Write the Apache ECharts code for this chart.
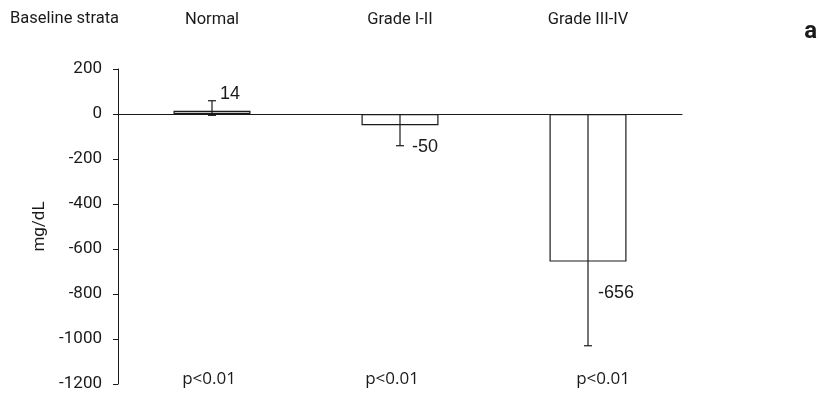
<!DOCTYPE html>
<html>
<head>
<meta charset="utf-8">
<script src="https://cdn.jsdelivr.net/npm/echarts@6/dist/echarts.min.js"></script>
<style>html,body{margin:0;padding:0;background:#fff}#c{width:819px;height:400px}</style>
</head>
<body>
<div id="c"></div>
<script>
var categories = ['Normal', 'Grade I-II', 'Grade III-IV'];
var means = [14, -50, -656];
var errHigh = [59, -141, -1030];
var errFrom = [-5, 0, 0];
var pValues = ['p<0.01', 'p<0.01', 'p<0.01'];
var yTicks = [200, 0, -200, -400, -600, -800, -1000, -1200];
var headerTitle = 'Baseline strata';
var panelTag = 'a';

// label style offsets (pixels, relative to error-bar cap)
var labelDx = [8, 12, 10];
var labelDy = [-7, 1, -53];
var pDx = [-3, -8, 15];

var chart = echarts.init(document.getElementById('c'));
var ink = '#1a1a1a';

chart.setOption({
  animation: false,
  backgroundColor: '#fff',
  grid: { left: 118, right: 137, top: 69, bottom: 16, containLabel: false },
  xAxis: [{
    type: 'category',
    data: categories,
    axisLine: { onZero: true, lineStyle: { color: ink, width: 1 } },
    axisTick: { show: false },
    axisLabel: { show: false },
    splitLine: { show: false }
  }, {
    type: 'category',
    data: categories,
    position: 'top',
    axisLine: { show: false },
    axisTick: { show: false },
    axisLabel: {
      margin: 41,
      color: ink,
      fontFamily: 'Liberation Sans Narrow, Roboto, sans-serif',
      fontSize: 16.5
    }
  }],
  yAxis: {
    type: 'value',
    min: yTicks[yTicks.length - 1],
    max: yTicks[0],
    interval: 200,
    name: 'mg/dL',
    nameLocation: 'middle',
    nameGap: 68,
    nameRotate: 90,
    nameTextStyle: { color: ink, fontFamily: 'Roboto, sans-serif', fontSize: 17 },
    axisLine: { show: true, lineStyle: { color: ink, width: 1 } },
    axisTick: { show: true, length: 5, lineStyle: { color: ink } },
    axisLabel: {
      color: ink, fontFamily: 'Roboto, sans-serif', fontSize: 17, margin: 16,
      formatter: function (v) { return String(v); }
    },
    splitLine: { show: false }
  },
  graphic: [{
    type: 'text', left: 10, top: 10,
    style: { text: headerTitle, fill: ink, font: '16.5px "Liberation Sans Narrow", Roboto, sans-serif' }
  }, {
    type: 'text', right: 2, top: 20,
    style: { text: panelTag, fill: ink, font: 'bold 24px Roboto, "DejaVu Sans", sans-serif' }
  }],
  series: [{
    type: 'bar',
    data: means,
    barWidth: 77,
    itemStyle: { color: '#fff', borderColor: ink, borderWidth: 1.2 },
    z: 2
  }, {
    type: 'custom',
    z: 3,
    data: categories.map(function (c, i) { return [i, errFrom[i], errHigh[i]]; }),
    renderItem: function (params, api) {
      var i = api.value(0);
      var p0 = api.coord([i, api.value(1)]);
      var p1 = api.coord([i, api.value(2)]);
      var hw = 4;
      var els = [
        { type: 'line', shape: { x1: p0[0], y1: p0[1], x2: p1[0], y2: p1[1] }, style: { stroke: ink, lineWidth: 1.2 } },
        { type: 'line', shape: { x1: p1[0] - hw, y1: p1[1], x2: p1[0] + hw, y2: p1[1] }, style: { stroke: ink, lineWidth: 1.2 } }
      ];
      if (api.value(1) !== 0) {
        els.push({ type: 'line', shape: { x1: p0[0] - hw, y1: p0[1], x2: p0[0] + hw, y2: p0[1] }, style: { stroke: ink, lineWidth: 1.6 } });
      }
      els.push({
        type: 'text',
        style: {
          text: String(means[i]),
          x: p1[0] + labelDx[i], y: p1[1] + labelDy[i],
          textAlign: 'left', textVerticalAlign: 'middle',
          fill: ink, font: '18px "Liberation Sans", Arial, sans-serif'
        }
      });
      return { type: 'group', children: els };
    }
  }, {
    type: 'custom',
    z: 3,
    data: categories.map(function (c, i) { return [i, -1177]; }),
    renderItem: function (params, api) {
      var i = api.value(0);
      var p = api.coord([i, api.value(1)]);
      return {
        type: 'text',
        style: {
          text: pValues[i], x: p[0] + pDx[i], y: p[1],
          textAlign: 'center', textVerticalAlign: 'middle',
          fill: ink, font: '17px "Open Sans", sans-serif'
        }
      };
    }
  }]
});
</script>
</body>
</html>
